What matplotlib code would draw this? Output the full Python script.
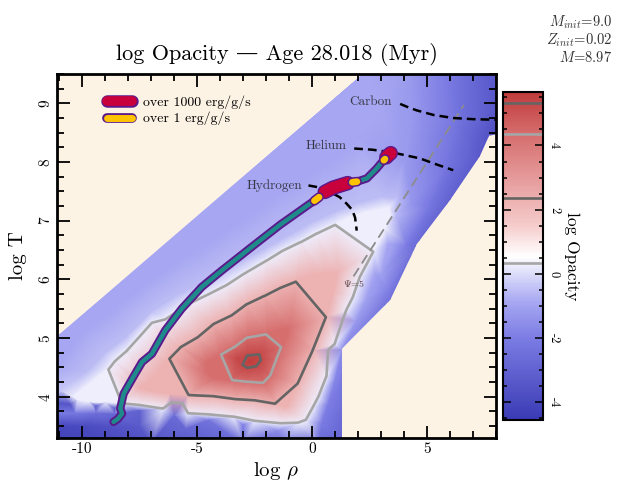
import numpy as np
import matplotlib
matplotlib.use('Agg')
import matplotlib.pyplot as plt
import matplotlib.tri as mtri
import matplotlib.patheffects as pe
from matplotlib.colors import LinearSegmentedColormap
from matplotlib.patches import Polygon
from matplotlib.lines import Line2D
from matplotlib.ticker import MultipleLocator, FormatStrFormatter

plt.rcParams['font.family'] = ['cmr10', 'DejaVu Serif']
plt.rcParams['mathtext.fontset'] = 'cm'
plt.rcParams['axes.unicode_minus'] = False
plt.rcParams['axes.formatter.use_mathtext'] = False

# ---- data ----
# region where the opacity table has values (log rho, log T)
COVER_RHO = [-11.5, -11.5, 2.5, 8.5, 8.5, 7.7, 7.3, 6.0, 4.55, 3.4, 1.3, 1.3]
COVER_T = [3.2, 4.93, 9.6, 9.6, 8.5, 8.45, 8.1, 7.35, 6.6, 5.65, 4.82, 3.2]

# points along the contours of log opacity
R1_VAL = 0.3
R1_RHO = [-10.4, -9.6, -8.9, -8.6, -8.1, -7.5, -7.0, -6.4, -5.4, -4.5, -3.7, -3.0, -2.0, -1.3, -0.5, 0.2, 1.0, 1.65, 2.4, 3.0, 3.35,
          3.4, 3.2, 2.7, 2.1, 1.8, 1.5, 1.0, 0.64, 0.3, 0.06, -0.25,
          -0.6, -1.4, -2.5, -3.4, -4.5, -5.4, -6.5, -7.5, -8.3, -9.0, -9.7, -10.2]
R1_T = [4.00, 4.25, 4.47, 4.62, 4.79, 5.05, 5.27, 5.33, 5.59, 5.76, 5.92, 6.10, 6.33, 6.50, 6.65, 6.80, 6.95, 7.06, 7.15, 7.20, 7.23,
        7.08, 6.85, 6.48, 6.04, 5.70, 5.47, 4.90, 4.34, 4.00, 3.82, 3.60,
        3.55, 3.54, 3.58, 3.65, 3.69, 3.71, 3.79, 3.85, 3.88, 3.90, 3.91, 3.95]

R2_VAL = 2.3
R2_RHO = [1.07, 0.5, 0.06, -0.7, -1.4, -2.1, -2.85, -3.5, -4.3, -5.0, -5.75, -6.25, -6.8, -7.2, -7.5,
          -7.0, -6.2, -5.4, -4.3, -3.35, -2.5, -1.6, -1.1,
          -0.6, 0.06, 0.64, 0.9]
R2_T = [6.10, 6.10, 6.08, 5.98, 5.87, 5.73, 5.59, 5.40, 5.25, 5.02, 4.85, 4.65, 4.36, 4.22, 4.14,
        4.09, 4.05, 4.02, 4.00, 3.95, 3.93, 3.87, 3.82,
        4.22, 4.79, 5.36, 5.75]

R3_VAL = 4.3
R3_RHO = [-1.03, -1.5, -2.0, -2.84, -3.42, -4.0, -4.58, -4.65, -4.29, -3.5, -2.8, -2.12, -1.8, -1.54, -1.3, -1.1]
R3_T = [5.16, 5.12, 5.08, 5.02, 4.85, 4.72, 4.59, 4.45, 4.31, 4.27, 4.24, 4.22, 4.35, 4.62, 4.85, 5.02]

R4_VAL = 5.3
R4_RHO = [-3.28, -2.84, -2.26, -2.19, -2.41, -2.84, -3.06]
R4_T = [4.65, 4.71, 4.73, 4.62, 4.51, 4.48, 4.54]

PEAK_RHO, PEAK_T, PEAK_VAL = -2.7, 4.6, 5.65

# values in the blue parts of the table
# just outside the outer contour
HALO_RHO = [-9.8, -9.0, -8.0, -7.0, -6.0, -5.0, -4.0, -3.0, -2.0, -1.0, 0.0, 1.0, 2.0, 3.0, 3.7,
            3.65, 3.3, 2.7, 2.3, 1.9, 1.3, 1.0, 0.7, 0.4]
HALO_T = [4.42, 4.75, 5.05, 5.45, 5.7, 5.9, 6.1, 6.32, 6.53, 6.75, 6.97, 7.15, 7.3, 7.4, 7.38,
          7.1, 6.6, 6.1, 5.65, 5.3, 4.8, 4.3, 3.9, 3.55]
HALO_VAL = [-0.5] * 15 + [-0.6, -0.9, -0.9, -1.0, -1.2, -1.5, -1.7, -1.9, -2.0]

# electron-scattering region (upper left)
ES_RHO = [-11.2, -10.0, -8.5, -7.0, -5.5, -3.5, -1.5, 0.5, 2.0, 3.0,
          -11.2, -9.0, -6.5, -4.0, -1.5, 1.0, 2.5, -11.2, -10.9]
ES_T = [4.5, 5.1, 5.55, 6.0, 6.4, 6.9, 7.45, 7.95, 8.4, 8.9,
        4.98, 5.68, 6.52, 7.37, 8.2, 9.05, 9.6, 4.02, 4.1]
ES_VAL = [-0.9] * 17 + [-0.6, -0.3]

# high density band (right of the Psi line)
HD_RHO = [3.0, 3.6, 4.3, 4.0, 4.5, 4.0,
          3.3, 4.1, 5.0, 5.8, 6.3, 5.8,
          3.45, 4.6, 6.05, 7.35, 7.75, 8.5, 8.5, 8.5, 7.2]
HD_T = [6.1, 6.6, 7.3, 8.0, 8.8, 9.6,
        5.85, 6.6, 7.2, 7.9, 8.6, 9.6,
        5.62, 6.55, 7.3, 8.05, 8.42, 8.45, 9.0, 9.6, 9.6]
HD_VAL = [-1.0, -1.1, -1.3, -1.2, -1.3, -1.1,
          -1.8, -2.0, -2.1, -2.2, -2.3, -2.0,
          -2.6, -2.8, -3.1, -3.4, -3.6, -3.8, -3.7, -3.5, -2.9]

# low temperature region (bottom)
LT_RHO = [1.4, 1.4, 1.4, 0.3, -1.2, -3.0, -5.0, -7.0, -9.0, -11.2,
          -1.5, -3.0, -4.5, -6.0, -7.5,
          -11.2, -10.0, -8.8, -7.5, -5.5,
          -11.2, -10.3, -9.4, -8.6,
          -11.2, -10.5, -9.4, -8.6]
LT_T = [4.3, 3.8, 3.2, 3.2, 3.2, 3.2, 3.2, 3.2, 3.2, 3.2,
        3.42, 3.52, 3.6, 3.68, 3.76,
        3.5, 3.5, 3.5, 3.5, 3.45,
        3.72, 3.72, 3.72, 3.7,
        3.9, 3.87, 3.84, 3.81]
LT_VAL = [-2.2, -2.6, -3.0, -2.8, -2.4, -2.6, -3.2, -3.6, -4.0, -4.3,
          -1.6, -2.0, -2.3, -2.6, -3.0,
          -4.0, -3.9, -3.6, -3.3, -2.8,
          -2.0, -2.1, -2.4, -2.8,
          -3.6, -3.5, -3.3, -3.2]

LEVELS = [0.35, 2.35, 4.35, 5.33]
LEVEL_COLORS = ['#a6a6a6', '#646464', '#a6a6a6', '#646464']

# stellar profile track
TRACK_RHO = [-8.64, -8.45, -8.27, -8.35, -8.3, -8.2, -7.95, -7.7, -7.4, -6.97, -6.39, -5.67, -4.8, -3.93, -2.7,
             -1.39, -0.09, 0.1, 0.3, 0.55, 0.9, 1.22, 1.55, 1.75, 1.95, 2.38, 2.81, 3.0, 3.12, 3.17, 3.23, 3.3, 3.42, 3.48]
TRACK_T = [3.57, 3.62, 3.71, 3.8, 3.88, 4.05, 4.22, 4.39, 4.59, 4.73, 5.13, 5.50, 5.87, 6.15, 6.53,
           6.93, 7.29, 7.34, 7.40, 7.49, 7.56, 7.60, 7.64, 7.655, 7.665, 7.72, 7.89, 7.98, 8.03, 8.05, 8.08, 8.11, 8.15, 8.18]
RED_RANGES = [(0.55, 1.55), (3.23, 3.42)]
YELLOW_RANGES = [(0.1, 0.3), (1.75, 1.95), (3.12, 3.17)]

# burning lines
H_RHO = [-0.16, 0.4, 0.78, 1.2, 1.5, 1.75, 1.87, 1.94]
H_T = [7.60, 7.56, 7.49, 7.40, 7.29, 7.18, 7.05, 6.83]
HE_RHO = [1.83, 2.6, 3.39, 4.0, 4.7, 5.4, 6.14]
HE_T = [8.23, 8.21, 8.17, 8.12, 8.06, 7.96, 7.86]
C_RHO = [3.83, 4.2, 4.55, 5.3, 6.14, 7.0, 8.0]
C_T = [8.99, 8.93, 8.88, 8.80, 8.75, 8.73, 8.72]
PSI_RHO = [1.8, 6.6]
PSI_T = [6.05, 8.97]

VMIN, VMAX = -4.55, 5.65

# ---- colours ----
cnodes = [(-4.55, '#3a3ab4'), (-2.0, '#7c7ce4'), (-0.9, '#a6a6f2'), (0.0, '#dcdcfa'), (0.55, '#ffffff'),
          (1.5, '#f6cccc'), (3.0, '#e59a9a'), (4.5, '#d46868'), (5.65, '#c03c3c')]
cmap = LinearSegmentedColormap.from_list('opac', [((v - VMIN) / (VMAX - VMIN), c) for v, c in cnodes])

fig = plt.figure(figsize=(6.25, 5), dpi=100)
ax = fig.add_axes([0.0912, 0.1246, 0.7024, 0.7274])
ax.set_facecolor('#fdf3e5')

x = np.array(R1_RHO + R2_RHO + R3_RHO + R4_RHO + [PEAK_RHO] + HALO_RHO + ES_RHO + HD_RHO + LT_RHO)
y = np.array(R1_T + R2_T + R3_T + R4_T + [PEAK_T] + HALO_T + ES_T + HD_T + LT_T)
z = np.array([R1_VAL] * len(R1_RHO) + [R2_VAL] * len(R2_RHO) + [R3_VAL] * len(R3_RHO)
             + [R4_VAL] * len(R4_RHO) + [PEAK_VAL] + HALO_VAL + ES_VAL + HD_VAL + LT_VAL)

# triangulate in roughly screen-shaped coordinates
tri_s = mtri.Triangulation(x, y * 2.55)
tri = mtri.Triangulation(x, y, tri_s.triangles)

clip = Polygon(np.column_stack([COVER_RHO, COVER_T]), closed=True, transform=ax.transData)
tpc = ax.tripcolor(tri, z, shading='gouraud', cmap=cmap, vmin=VMIN, vmax=VMAX)
tpc.set_clip_path(clip)
cs = ax.tricontour(tri, z, levels=LEVELS, colors=LEVEL_COLORS, linewidths=1.9)

# Psi = 5 line and burning lines
ax.plot(PSI_RHO, PSI_T, color='#8c8c8c', lw=1.3, dashes=(5.5, 3))
ax.text(1.35, 5.93, r'$\Psi$=5', fontsize=7, color='#5a3c3c', va='center')
for rr, tt in [(H_RHO, H_T), (HE_RHO, HE_T), (C_RHO, C_T)]:
    ax.plot(rr, tt, color='black', lw=1.8, dashes=(3.5, 2))
ax.text(-0.43, 7.6, 'Hydrogen', fontsize=9.5, color='#383848', ha='right', va='center')
ax.text(1.52, 8.27, 'Helium', fontsize=9.5, color='#383848', ha='right', va='center')
ax.text(3.48, 9.03, 'Carbon', fontsize=9.5, color='#383848', ha='right', va='center')

# track
purple = '#5a1a8c'
tr = np.array(TRACK_RHO)
tt = np.array(TRACK_T)
ax.plot(tr, tt, color='#1f8a8a', lw=3.2, solid_capstyle='round',
        path_effects=[pe.Stroke(linewidth=6.0, foreground=purple), pe.Normal()])
red_fx = [pe.Stroke(linewidth=10.5, foreground=purple), pe.Normal()]
yel_fx = [pe.Stroke(linewidth=7.0, foreground=purple), pe.Normal()]
for lo, hi in RED_RANGES:
    m = (tr >= lo) & (tr <= hi)
    ax.plot(tr[m], tt[m], color='#c8003c', lw=8.5, solid_capstyle='round', path_effects=red_fx)
for lo, hi in YELLOW_RANGES:
    m = (tr >= lo - 0.01) & (tr <= hi + 0.01)
    ax.plot(tr[m], tt[m], color='#ffc400', lw=4.8, solid_capstyle='round', path_effects=yel_fx)

h1 = Line2D([], [], color='#c8003c', lw=7, solid_capstyle='round',
            path_effects=[pe.Stroke(linewidth=9, foreground=purple), pe.Normal()])
h2 = Line2D([], [], color='#ffc400', lw=5, solid_capstyle='round', path_effects=yel_fx)
ax.legend([h1, h2], ['over 1000 erg/g/s', 'over 1 erg/g/s'], loc='upper left',
          bbox_to_anchor=(0.085, 0.975), frameon=False, fontsize=10, handlelength=1.8,
          handletextpad=0.8, labelspacing=0.2)

ax.set_xlim(-11.1, 8.0)
ax.set_ylim(3.3, 9.5)
ax.xaxis.set_major_locator(MultipleLocator(5))
ax.xaxis.set_minor_locator(MultipleLocator(1))
ax.yaxis.set_major_locator(MultipleLocator(1))
ax.yaxis.set_minor_locator(MultipleLocator(0.25))
ax.xaxis.set_major_formatter(FormatStrFormatter('%d'))
ax.yaxis.set_major_formatter(FormatStrFormatter('%d'))
ax.tick_params(which='both', direction='in', top=True, right=True, width=1.3, labelsize=11)
ax.tick_params(which='major', length=9)
ax.tick_params(which='minor', length=5)
for lab in ax.get_yticklabels():
    lab.set_rotation(90)
    lab.set_va('center')
for s in ax.spines.values():
    s.set_linewidth(2)
ax.set_xlabel(r'log $\rho$', fontsize=15, labelpad=3)
ax.set_ylabel('log T', fontsize=15, labelpad=8)
ax.set_title('log Opacity \u2014 Age 28.018 (Myr)', fontsize=16, pad=10)

fig.text(0.979, 0.956, r'$M_{init}$=9.0', ha='right', va='center', fontsize=10.5, color='#333333')
fig.text(0.979, 0.920, r'$Z_{init}$=0.02', ha='right', va='center', fontsize=10.5, color='#333333')
fig.text(0.979, 0.886, r'$M$=8.97', ha='right', va='center', fontsize=10.5, color='#333333')

# colorbar
cax = fig.add_axes([0.805, 0.16, 0.064, 0.655])
cb = fig.colorbar(tpc, cax=cax)
cb.add_lines(cs)
cb.outline.set_linewidth(1.5)
cax.yaxis.set_major_locator(MultipleLocator(2))
cax.yaxis.set_minor_locator(MultipleLocator(0.5))
cax.yaxis.set_major_formatter(FormatStrFormatter('%d'))
cax.tick_params(which='both', direction='in', left=True, right=True, width=1.1, labelsize=9)
cax.tick_params(which='major', length=6)
cax.tick_params(which='minor', length=3)
for lab in cax.get_yticklabels():
    lab.set_rotation(270)
    lab.set_va('center')
cb.set_label('log Opacity', fontsize=12.5, rotation=270, labelpad=14)

fig.savefig('out.png', dpi=100)
